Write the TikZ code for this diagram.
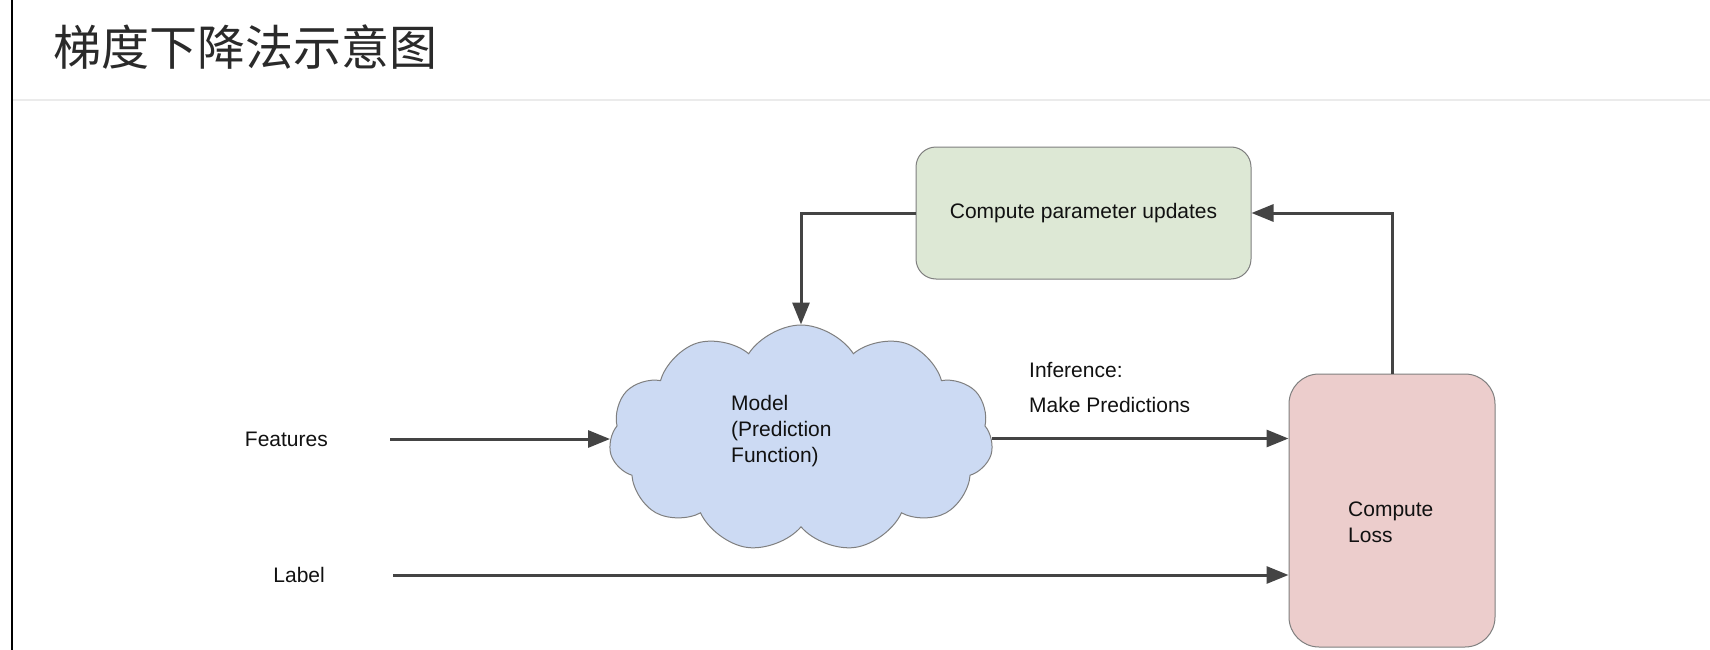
\documentclass[tikz,border=0pt]{standalone}
\usepackage{fontspec}
\setmainfont{Liberation Sans}
\newfontfamily\cjkfont{Noto Sans CJK SC}
\usetikzlibrary{arrows.meta,shapes.symbols,calc}
\definecolor{arrowgray}{HTML}{444444}
\definecolor{bordergray}{HTML}{7F7F7F}
\definecolor{sepgray}{HTML}{EBEBEB}
\definecolor{greenfill}{HTML}{DDE8D5}
\definecolor{bluefill}{HTML}{CCDAF3}
\definecolor{redfill}{HTML}{ECCDCC}
\definecolor{titlecol}{HTML}{2A2A2A}
\definecolor{txtcol}{HTML}{111111}
\begin{document}
\begin{tikzpicture}[x=1pt,y=-1pt,
  conn/.style={line width=3pt, draw=arrowgray, -{Triangle[length=22pt,width=17pt]}},
  lbl/.style={font=\fontsize{21}{26}\selectfont, text=txtcol, inner sep=0pt},
  greenbox/.style={draw=bordergray, line width=1pt, fill=greenfill, rounded corners=20pt,
    minimum width=335pt, minimum height=132pt, font=\fontsize{21}{26}\selectfont, text=txtcol},
  redbox/.style={draw=bordergray, line width=1pt, fill=redfill, rounded corners=30pt,
    minimum width=206pt, minimum height=273pt},
  cloudshape/.style={cloud, draw=bordergray, line width=1pt, fill=bluefill, cloud puffs=11,
    cloud puff arc=115, cloud ignores aspect, minimum width=384pt, minimum height=227pt, inner sep=0pt}
]
\useasboundingbox (0,0) rectangle (1710,650);
\fill[white] (0,0) rectangle (1710,650);
\draw[black, line width=2pt] (12,0) -- (12,650);
\draw[sepgray, line width=2pt] (13,100) -- (1710,100);
\node[anchor=west, inner sep=0pt, text=titlecol, font=\cjkfont\fontsize{48}{56}\selectfont] (title) at (53,47) {梯度下降法示意图};

\node[greenbox] (update) at (1083.5,213) {Compute parameter updates};
\node[cloudshape] (model) at (801,438.5) {};
\node[lbl, align=left, anchor=west] (modeltext) at (731,431) {Model\\(Prediction\\Function)};
\node[redbox] (loss) at (1392,510.5) {};
\node[lbl, align=left, anchor=west] (losstext) at (1348,522) {Compute\\Loss};
\node[lbl, anchor=east] (features) at (328,439) {Features};
\node[lbl, anchor=east] (label) at (325,575) {Label};
\node[lbl, align=left, anchor=west, font=\fontsize{21}{35}\selectfont] (inference) at (1029,388) {Inference:\\Make Predictions};

\draw[conn, shorten <=62pt] (features.east) -- (features.east -| model.west);
\draw[conn, shorten <=68pt] (label.east) -- (label.east -| loss.west);
\draw[conn] (model.east) -- (model.east -| loss.west);
\draw[conn] (loss.north) |- (update.east);
\draw[conn] (update.west) -| (model.north);
\end{tikzpicture}
\end{document}
